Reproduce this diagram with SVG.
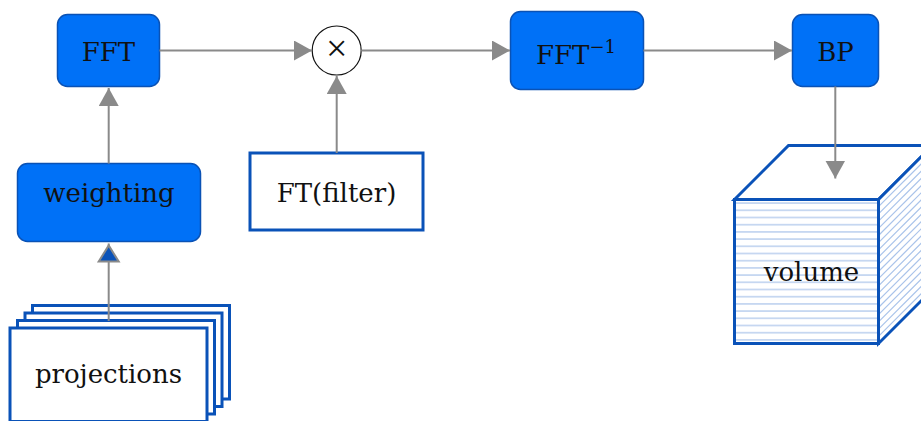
<svg xmlns="http://www.w3.org/2000/svg" width="921" height="421" viewBox="0 0 921 421">
  <style>
    .txt { font-family: "DejaVu Serif", "Liberation Serif", serif; font-size: 26px; fill: #111; text-anchor: middle; }
    .blue { fill: #0071f7; stroke: #0a52b5; stroke-width: 1.5; }
    .white { fill: #ffffff; stroke: #0a52b8; stroke-width: 3; }
    .conn { stroke: #8a8a8a; stroke-width: 2; fill: none; }
    .stripe { stroke: #a9c3ea; stroke-width: 1.2; }
  </style>
  <defs>
    <marker id="arr" viewBox="0 0 18 20" refX="18" refY="10" markerWidth="18" markerHeight="20" markerUnits="userSpaceOnUse" orient="auto">
      <path d="M0,0 L18,10 L0,20 z" fill="#8a8a8a"/>
    </marker>
    <marker id="arrBlue" viewBox="-2 -2 22 24" refX="18" refY="10" markerWidth="22" markerHeight="24" markerUnits="userSpaceOnUse" orient="auto">
      <path d="M0,0 L16,10 L0,20 z" fill="#0a52b8" stroke="#8a8a8a" stroke-width="2" stroke-linejoin="miter"/>
    </marker>
    <pattern id="hstripes" patternUnits="userSpaceOnUse" x="0" y="199.5" width="20" height="7.2">
      <line x1="0" y1="3.6" x2="20" y2="3.6" class="stripe"/>
    </pattern>
    <clipPath id="sideClip">
      <polygon points="878.5,199.5 932.5,145.5 932.5,289.5 878.5,343.5"/>
    </clipPath>
  </defs>

  <g id="projections">
    <rect class="white" x="32.5" y="305.5" width="197" height="93.5"/>
    <rect class="white" x="25" y="313" width="197" height="93.5"/>
    <rect class="white" x="17.5" y="320.5" width="197" height="93.5"/>
    <rect class="white" x="10" y="328" width="197" height="93.5"/>
    <text class="txt" x="108.5" y="382.5">projections</text>
  </g>

  <g id="weighting">
    <rect class="blue" x="17.5" y="163.5" width="183" height="78" rx="10"/>
    <text class="txt" x="109" y="202">weighting</text>
  </g>

  <g id="fft">
    <rect class="blue" x="57.5" y="14.5" width="102" height="72" rx="10"/>
    <text class="txt" x="108.5" y="61">FFT</text>
  </g>

  <g id="multiply">
    <circle cx="336.7" cy="50.5" r="24.5" fill="#ffffff" stroke="#111" stroke-width="1.2"/>
    <text class="txt" x="336.7" y="60.5" style="font-family:'Liberation Serif', serif; font-size:38px">×</text>
  </g>

  <g id="ftfilter">
    <rect class="white" x="250" y="153" width="173" height="77"/>
    <text class="txt" x="336.5" y="202">FT(filter)</text>
  </g>

  <g id="ifft">
    <rect class="blue" x="510.5" y="11.5" width="133" height="78" rx="10"/>
    <text class="txt" x="576" y="63.5">FFT<tspan dy="-11" style="font-size:18px">−1</tspan></text>
  </g>

  <g id="bp">
    <rect class="blue" x="792.5" y="14.5" width="86" height="72" rx="10"/>
    <text class="txt" x="835.5" y="61">BP</text>
  </g>

  <g id="volume">
    <polygon points="734.5,199.5 788.5,145.5 932.5,145.5 878.5,199.5" fill="#ffffff" stroke="#0a52b8" stroke-width="3" stroke-linejoin="miter"/>
    <polygon points="878.5,199.5 932.5,145.5 932.5,289.5 878.5,343.5" fill="#ffffff"/>
    <g clip-path="url(#sideClip)" class="stripe">
      <line x1="878.5" y1="206.7" x2="940" y2="145.2"/>
      <line x1="878.5" y1="213.9" x2="940" y2="152.4"/>
      <line x1="878.5" y1="221.1" x2="940" y2="159.6"/>
      <line x1="878.5" y1="228.3" x2="940" y2="166.8"/>
      <line x1="878.5" y1="235.5" x2="940" y2="174"/>
      <line x1="878.5" y1="242.7" x2="940" y2="181.2"/>
      <line x1="878.5" y1="249.9" x2="940" y2="188.4"/>
      <line x1="878.5" y1="257.1" x2="940" y2="195.6"/>
      <line x1="878.5" y1="264.3" x2="940" y2="202.8"/>
      <line x1="878.5" y1="271.5" x2="940" y2="210"/>
      <line x1="878.5" y1="278.7" x2="940" y2="217.2"/>
      <line x1="878.5" y1="285.9" x2="940" y2="224.4"/>
      <line x1="878.5" y1="293.1" x2="940" y2="231.6"/>
      <line x1="878.5" y1="300.3" x2="940" y2="238.8"/>
      <line x1="878.5" y1="307.5" x2="940" y2="246"/>
      <line x1="878.5" y1="314.7" x2="940" y2="253.2"/>
      <line x1="878.5" y1="321.9" x2="940" y2="260.4"/>
      <line x1="878.5" y1="329.1" x2="940" y2="267.6"/>
      <line x1="878.5" y1="336.3" x2="940" y2="274.8"/>
      <line x1="878.5" y1="343.5" x2="940" y2="282"/>
    </g>
    <polygon points="878.5,199.5 932.5,145.5 932.5,289.5 878.5,343.5" fill="none" stroke="#0a52b8" stroke-width="3" stroke-linejoin="miter"/>
    <rect x="734.5" y="199.5" width="144" height="144" fill="url(#hstripes)"/>
    <rect x="734.5" y="199.5" width="144" height="144" fill="none" stroke="#0a52b8" stroke-width="3"/>
    <text class="txt" x="811.5" y="281">volume</text>
  </g>

  <g id="connectors">
    <line class="conn" x1="108.7" y1="321" x2="108.7" y2="243.5" marker-end="url(#arrBlue)"/>
    <line class="conn" x1="108.7" y1="163.5" x2="108.7" y2="88" marker-end="url(#arr)"/>
    <line class="conn" x1="159.5" y1="50.5" x2="312" y2="50.5" marker-end="url(#arr)"/>
    <line class="conn" x1="336.7" y1="153" x2="336.7" y2="76" marker-end="url(#arr)"/>
    <line class="conn" x1="361.2" y1="50.5" x2="510" y2="50.5" marker-end="url(#arr)"/>
    <line class="conn" x1="643.5" y1="50.5" x2="792" y2="50.5" marker-end="url(#arr)"/>
    <line class="conn" x1="835.3" y1="86.5" x2="835.3" y2="178.5" marker-end="url(#arr)"/>
  </g>
</svg>
